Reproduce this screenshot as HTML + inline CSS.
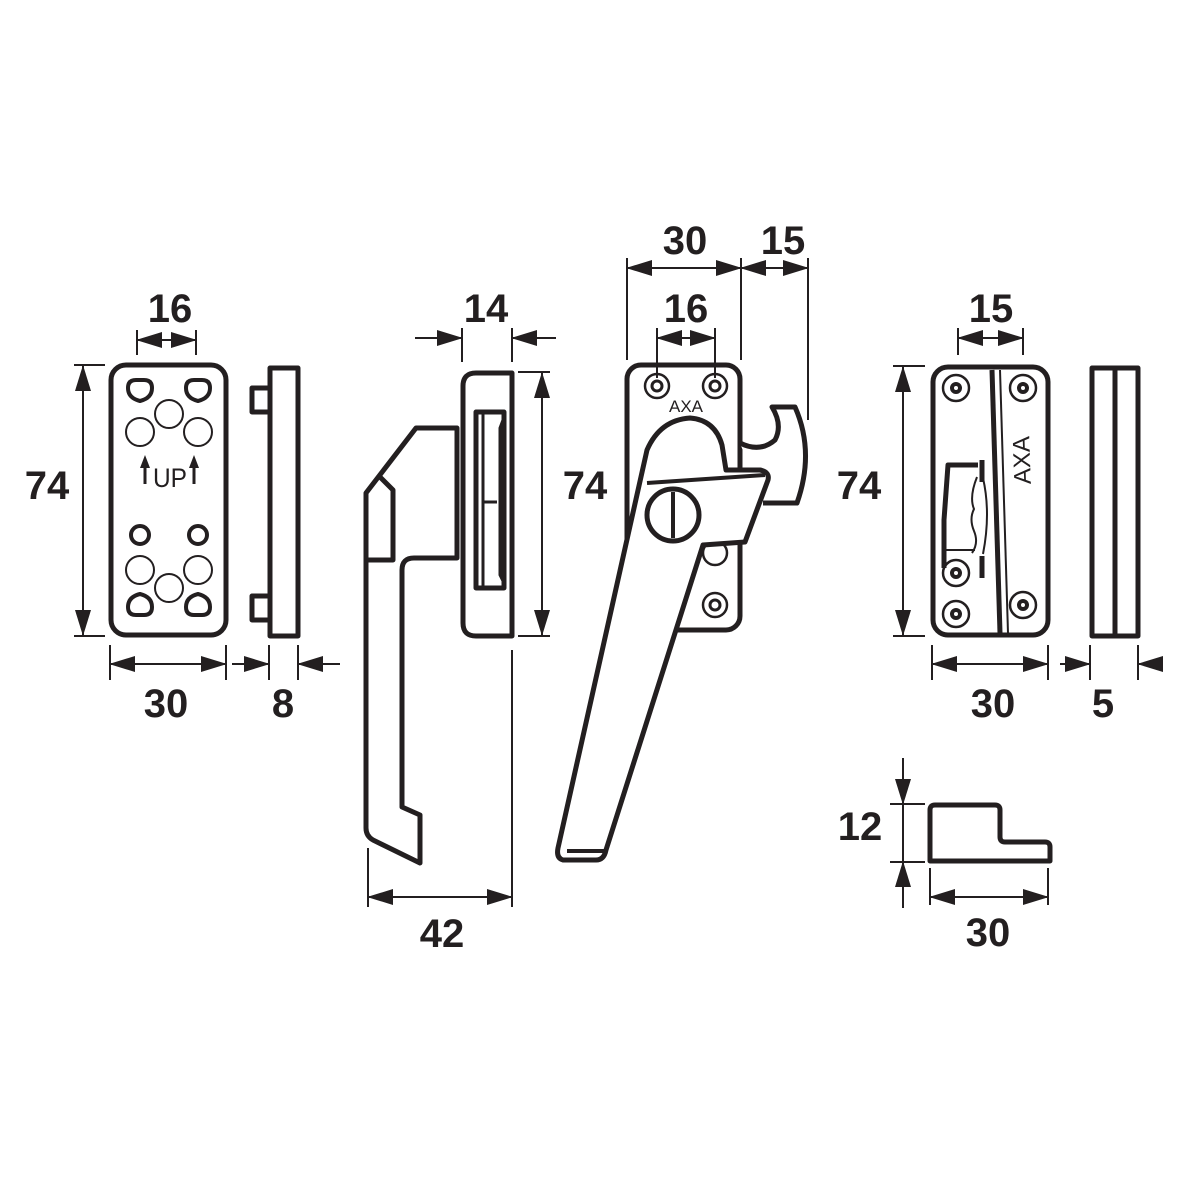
<!DOCTYPE html>
<html><head><meta charset="utf-8"><style>
html,body{margin:0;padding:0;background:#fff}
svg{display:block}
text{font-family:"Liberation Sans",Arial,sans-serif;font-weight:bold;fill:#231f20}
</style></head><body>
<svg width="1181" height="1181" viewBox="0 0 1181 1181" xmlns="http://www.w3.org/2000/svg">
<defs>
<marker id="a" markerWidth="26" markerHeight="16" refX="25" refY="8" orient="auto" markerUnits="userSpaceOnUse">
<path d="M0,0 L26,8 L0,16 Z" fill="#231f20"/></marker>
</defs>
<g stroke="#231f20" fill="none" stroke-linejoin="round">

<!-- LEFT PLATE -->
<rect x="111" y="365" width="115" height="270" rx="15" stroke-width="5"/>
<g stroke-width="4">
<path d="M128,388 q0,-8 8,-8 h8 q8,0 8,8 q0,10 -12,13 q-12,-3 -12,-13z"/>
<path d="M186,388 q0,-8 8,-8 h8 q8,0 8,8 q0,10 -12,13 q-12,-3 -12,-13z"/>
<path d="M128,607 q0,8 8,8 h8 q8,0 8,-8 q0,-10 -12,-13 q-12,3 -12,13z"/>
<path d="M186,607 q0,8 8,8 h8 q8,0 8,-8 q0,-10 -12,-13 q-12,3 -12,13z"/>
<circle cx="140" cy="535" r="9"/><circle cx="198" cy="535" r="9"/>
</g>
<g stroke-width="2">
<circle cx="169" cy="414" r="14"/><circle cx="140" cy="432" r="14"/><circle cx="198" cy="432" r="14"/>
<circle cx="169" cy="588" r="14"/><circle cx="140" cy="570" r="14"/><circle cx="198" cy="570" r="14"/>
</g>
<line x1="145" y1="462" x2="145" y2="484" stroke-width="3"/><line x1="194" y1="462" x2="194" y2="484" stroke-width="3"/>
<!-- side piece -->
<rect x="270" y="368" width="28" height="268" stroke-width="5"/>
<path d="M270,388 h-18 v24 h18 M270,596 h-18 v24 h18" stroke-width="5"/>

<!-- HANDLE SIDE VIEW -->
<path d="M476,373 H512 V636 H476 q-13,0 -13,-13 V386 q0,-13 13,-13z" stroke-width="5"/>
<path d="M476,412 H504 V588 H476 Z" stroke-width="5"/>
<path d="M483,412 V502 H497 M483,502 V588 M503,420 L500,428 V575 L505,585" stroke-width="3"/>
<path d="M366,493 L416,428 H457 V558 H414 q-12,0 -12,12 V807 L420,815 V863 L373,840 q-7,-4 -7,-12 Z" stroke-width="5"/>
<path d="M380,477 L393,490 V560 H368" stroke-width="5"/>

<!-- CENTER HANDLE -->
<rect x="627" y="365" width="113" height="265" rx="14" stroke-width="5"/>
<g stroke-width="2.5">
<circle cx="657" cy="386" r="12"/><circle cx="715" cy="386" r="12"/>
<circle cx="715" cy="553" r="12"/><circle cx="715" cy="605" r="12"/>
</g>
<circle cx="657" cy="386" r="5" stroke-width="3"/><circle cx="715" cy="386" r="5" stroke-width="3"/>
<circle cx="715" cy="605" r="5" stroke-width="3"/>
<path d="M740,443 q20,10 35,-3 q8,-15 -3,-33 H795 q20,45 2,96 H763" stroke-width="5" fill="#fff"/>
<path d="M563,860 Q556,858 558,848 L647,450 Q660,420 690,418 Q715,420 722,445 L726,470 H760 Q770,472 768,480 L745,542 L703,545 L606,850 Q604,860 596,860 Z" stroke-width="5" fill="#fff"/>
<path d="M647,483 L765,475 M567,851 H605" stroke-width="4"/>
<circle cx="673" cy="515" r="26" stroke-width="5" fill="#fff"/>
<line x1="673" y1="492" x2="673" y2="538" stroke-width="4"/>

<!-- RIGHT PLATE -->
<rect x="933" y="367" width="115" height="268" rx="15" stroke-width="5"/>
<path d="M992,370 L1000,633" stroke-width="5"/><path d="M1000,370 L1008,633" stroke-width="2"/>
<g stroke-width="2.5">
<circle cx="956" cy="388" r="13"/><circle cx="1023" cy="388" r="13"/>
<circle cx="956" cy="573" r="13"/><circle cx="956" cy="614" r="13"/><circle cx="1023" cy="605" r="13"/>
</g>
<g stroke-width="4">
<circle cx="956" cy="388" r="4"/><circle cx="1023" cy="388" r="4"/>
<circle cx="956" cy="573" r="4"/><circle cx="956" cy="614" r="4"/><circle cx="1023" cy="605" r="4"/>
</g>
<path d="M978,465 H948 L944,520 L944,568" stroke-width="5"/>
<path d="M982,460 V482 M982,556 V578" stroke-width="5"/>
<path d="M977,477 q-8,20 -3,32 q-5,10 0,22 q5,12 -2,22 M983,478 q8,35 0,76 M944,550 H975" stroke-width="2"/>

<rect x="1092" y="368" width="46" height="268" stroke-width="5"/>
<line x1="1115" y1="368" x2="1115" y2="636" stroke-width="5"/>

<!-- BOTTOM PIECE -->
<path d="M930,861 V810 q0,-5 5,-5 H995 q5,0 5,5 V837 q0,5 5,5 H1045 q5,0 5,5 V861 Z" stroke-width="5"/>

<!-- DIMENSIONS -->
<g stroke-width="2">
<line x1="137" y1="330" x2="137" y2="355"/><line x1="196" y1="330" x2="196" y2="355"/>
<line x1="137" y1="340" x2="196" y2="340" marker-end="url(#a)"/><line x1="196" y1="340" x2="137" y2="340" marker-end="url(#a)"/>
<line x1="74" y1="365" x2="105" y2="365"/><line x1="74" y1="636" x2="105" y2="636"/>
<line x1="83" y1="366" x2="83" y2="635" marker-end="url(#a)"/><line x1="83" y1="635" x2="83" y2="366" marker-end="url(#a)"/>
<line x1="110" y1="645" x2="110" y2="680"/><line x1="226" y1="645" x2="226" y2="680"/>
<line x1="110" y1="664" x2="226" y2="664" marker-end="url(#a)"/><line x1="226" y1="664" x2="110" y2="664" marker-end="url(#a)"/>
<line x1="269" y1="645" x2="269" y2="680"/><line x1="298" y1="645" x2="298" y2="680"/>
<line x1="232" y1="664" x2="269" y2="664" marker-end="url(#a)"/><line x1="340" y1="664" x2="298" y2="664" marker-end="url(#a)"/>
<line x1="462" y1="328" x2="462" y2="362"/><line x1="512" y1="328" x2="512" y2="362"/>
<line x1="415" y1="338" x2="462" y2="338" marker-end="url(#a)"/><line x1="556" y1="338" x2="512" y2="338" marker-end="url(#a)"/>
<line x1="518" y1="372" x2="550" y2="372"/><line x1="518" y1="636" x2="550" y2="636"/>
<line x1="542" y1="373" x2="542" y2="635" marker-end="url(#a)"/><line x1="542" y1="635" x2="542" y2="373" marker-end="url(#a)"/>
<line x1="368" y1="848" x2="368" y2="907"/><line x1="512" y1="650" x2="512" y2="907"/>
<line x1="368" y1="897" x2="512" y2="897" marker-end="url(#a)"/><line x1="512" y1="897" x2="368" y2="897" marker-end="url(#a)"/>
<line x1="627" y1="258" x2="627" y2="360"/><line x1="741" y1="258" x2="741" y2="360"/><line x1="808" y1="258" x2="808" y2="420"/>
<line x1="627" y1="268" x2="741" y2="268" marker-end="url(#a)"/><line x1="741" y1="268" x2="627" y2="268" marker-end="url(#a)"/>
<line x1="741" y1="268" x2="808" y2="268" marker-end="url(#a)"/><line x1="808" y1="268" x2="741" y2="268" marker-end="url(#a)"/>
<line x1="657" y1="328" x2="657" y2="378"/><line x1="715" y1="328" x2="715" y2="378"/>
<line x1="657" y1="338" x2="715" y2="338" marker-end="url(#a)"/><line x1="715" y1="338" x2="657" y2="338" marker-end="url(#a)"/>
<line x1="958" y1="328" x2="958" y2="355"/><line x1="1023" y1="328" x2="1023" y2="355"/>
<line x1="958" y1="338" x2="1023" y2="338" marker-end="url(#a)"/><line x1="1023" y1="338" x2="958" y2="338" marker-end="url(#a)"/>
<line x1="893" y1="366" x2="925" y2="366"/><line x1="893" y1="636" x2="925" y2="636"/>
<line x1="903" y1="367" x2="903" y2="635" marker-end="url(#a)"/><line x1="903" y1="635" x2="903" y2="367" marker-end="url(#a)"/>
<line x1="932" y1="645" x2="932" y2="680"/><line x1="1048" y1="645" x2="1048" y2="680"/>
<line x1="932" y1="664" x2="1048" y2="664" marker-end="url(#a)"/><line x1="1048" y1="664" x2="932" y2="664" marker-end="url(#a)"/>
<line x1="1090" y1="645" x2="1090" y2="680"/><line x1="1138" y1="645" x2="1138" y2="680"/>
<line x1="1060" y1="664" x2="1090" y2="664" marker-end="url(#a)"/><line x1="1162" y1="664" x2="1138" y2="664" marker-end="url(#a)"/>
<line x1="890" y1="804" x2="925" y2="804"/><line x1="890" y1="862" x2="925" y2="862"/>
<line x1="903" y1="758" x2="903" y2="804" marker-end="url(#a)"/><line x1="903" y1="908" x2="903" y2="862" marker-end="url(#a)"/>
<line x1="903" y1="804" x2="903" y2="862"/>
<line x1="930" y1="868" x2="930" y2="905"/><line x1="1048" y1="868" x2="1048" y2="905"/>
<line x1="930" y1="897" x2="1048" y2="897" marker-end="url(#a)"/><line x1="1048" y1="897" x2="930" y2="897" marker-end="url(#a)"/>
</g>
</g>

<path d="M145,455 l-5,13 h10z M194,455 l-5,13 h10z" fill="#231f20"/>
<text x="170" y="487" font-size="27" style="font-weight:normal" text-anchor="middle" textLength="34" lengthAdjust="spacingAndGlyphs">UP</text>
<text x="686" y="412" font-size="17" style="font-weight:normal" text-anchor="middle">AXA</text>
<text transform="translate(1030,460) rotate(-92)" font-size="24" style="font-weight:normal" text-anchor="middle">AXA</text>

<g font-size="40" text-anchor="middle">
<text x="170" y="322">16</text>
<text x="47" y="499">74</text>
<text x="166" y="717">30</text>
<text x="283" y="717">8</text>
<text x="486" y="322">14</text>
<text x="585" y="499">74</text>
<text x="442" y="947">42</text>
<text x="685" y="254">30</text>
<text x="783" y="254">15</text>
<text x="686" y="322">16</text>
<text x="991" y="322">15</text>
<text x="859" y="499">74</text>
<text x="993" y="717">30</text>
<text x="1103" y="717">5</text>
<text x="860" y="840">12</text>
<text x="988" y="946">30</text>
</g>
</svg>
</body></html>
